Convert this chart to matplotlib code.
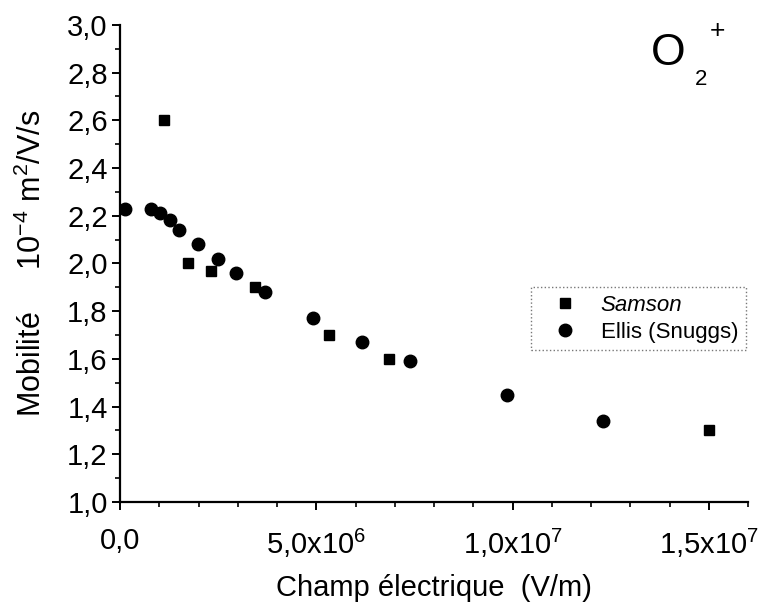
import matplotlib.pyplot as plt
from matplotlib.ticker import MultipleLocator, FuncFormatter

plt.rcParams['font.family'] = ['Liberation Sans', 'DejaVu Sans']
plt.rcParams['mathtext.default'] = 'regular'

# Samson (squares)
samson_x = [1.12e6, 1.72e6, 2.32e6, 3.43e6, 5.32e6, 6.85e6, 1.50e7]
samson_y = [2.60, 2.00, 1.97, 1.90, 1.70, 1.60, 1.30]

# Ellis (Snuggs) (circles)
ellis_x = [0.13e6, 0.78e6, 1.02e6, 1.26e6, 1.51e6, 1.99e6, 2.50e6, 2.96e6,
           3.70e6, 4.92e6, 6.15e6, 7.39e6, 9.85e6, 1.23e7]
ellis_y = [2.23, 2.23, 2.21, 2.18, 2.14, 2.08, 2.02, 1.96,
           1.88, 1.77, 1.67, 1.59, 1.45, 1.34]


def xfmt(v, pos):
    if v == 0:
        return '0,0'
    exp = 0
    m = v
    while abs(m) >= 10:
        m /= 10
        exp += 1
    return ('%.1f' % m).replace('.', ',') + 'x10$^{%d}$' % exp


fig = plt.figure(figsize=(7.61, 6.07), dpi=100)
ax = fig.add_axes([0.158, 0.173, 0.825, 0.786])

ax.plot(samson_x, samson_y, 's', color='black', markersize=7.5, label='Samson')
ax.plot(ellis_x, ellis_y, 'o', color='black', markersize=9, label='Ellis (Snuggs)')

ax.set_xlim(0, 1.6e7)
ax.set_ylim(1.0, 3.0)
ax.xaxis.set_major_locator(MultipleLocator(5e6))
ax.xaxis.set_minor_locator(MultipleLocator(1e6))
ax.yaxis.set_major_locator(MultipleLocator(0.2))
ax.yaxis.set_minor_locator(MultipleLocator(0.1))
ax.xaxis.set_major_formatter(FuncFormatter(xfmt))
ax.yaxis.set_major_formatter(FuncFormatter(lambda v, p: ('%.1f' % v).replace('.', ',')))

for s in ['top', 'right']:
    ax.spines[s].set_visible(False)
for s in ['left', 'bottom']:
    ax.spines[s].set_linewidth(1.6)
ax.tick_params(which='major', direction='out', length=6, width=1.4, labelsize=21)
ax.tick_params(axis='x', which='major', pad=12)
ax.tick_params(axis='y', which='major', pad=3)
ax.tick_params(which='minor', direction='out', length=3.5, width=1.2)

ax.set_xlabel('Champ électrique  (V/m)', fontsize=21)
ax.xaxis.set_label_coords(0.5, -0.18)
ax.xaxis.label.set_va('center')
ax.set_ylabel('Mobilité     10$^{-4}$ m$^{2}$/V/s', fontsize=22)
ax.yaxis.set_label_coords(-0.14, 0.5)
ax.yaxis.label.set_va('center')

# O2+ annotation
fig.text(0.878, 0.893, 'O', fontsize=32, ha='center', va='baseline')
fig.text(0.921, 0.860, '2', fontsize=16, ha='center', va='baseline')
fig.text(0.943, 0.937, '+', fontsize=19, ha='center', va='baseline')

leg = ax.legend(loc='center right', bbox_to_anchor=(1.0, 0.384), fontsize=16,
                frameon=True, fancybox=False, handletextpad=0.4, borderpad=0.35,
                labelspacing=0.25, handlelength=2.4, borderaxespad=0.1)
leg.get_frame().set_edgecolor('#555555')
leg.get_frame().set_linestyle(':')
leg.get_frame().set_linewidth(1.0)
leg.get_texts()[0].set_style('italic')

fig.savefig('out.png', dpi=100)
